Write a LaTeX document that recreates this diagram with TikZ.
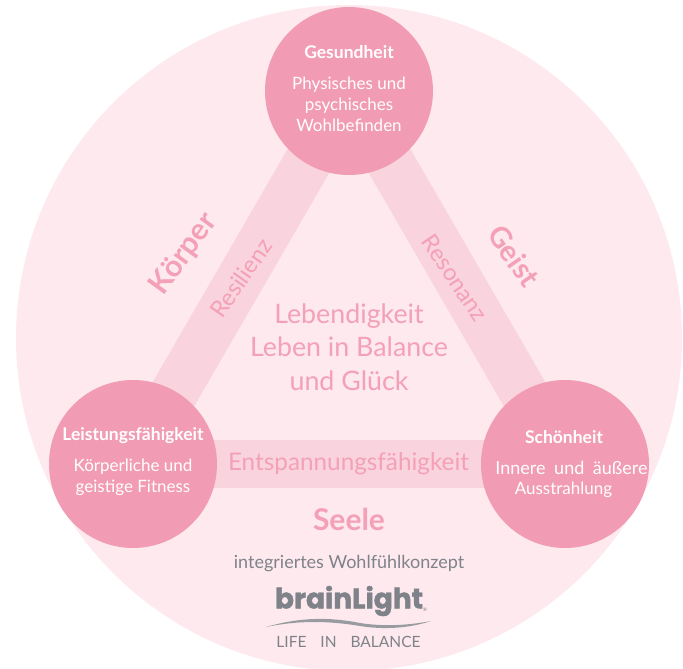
\documentclass[tikz,border=0pt]{standalone}
\usepackage{fontspec}
\setmainfont{Lato}
\newfontfamily\logofont[FakeBold=1.6]{Poppins}
\usetikzlibrary{backgrounds}
\definecolor{bgpink}{HTML}{FDE9EE}
\definecolor{bandpink}{HTML}{F9D3DD}
\definecolor{circpink}{HTML}{F29BB4}
\definecolor{txtpink}{HTML}{F4A0B9}
\definecolor{greytxt}{HTML}{7F8389}
\tikzset{
 x=1pt,y=-1pt,
 bigcirc/.style={circle,fill=circpink,minimum size=168pt,inner sep=0pt},
 band/.style={line width=48pt,bandpink,line cap=butt},
 wt/.style={text=white,font=\fontsize{17}{21}\selectfont,align=center,inner sep=0pt},
 wtb/.style={text=white,font=\fontsize{17.5}{20}\selectfont\bfseries,inner sep=0pt},
 pk/.style={text=txtpink,inner sep=0pt},
 ptitle/.style={pk,font=\fontsize{30}{34}\selectfont\bfseries},
 psub/.style={pk,font=\fontsize{23.5}{26}\selectfont},
 pmain/.style={pk,font=\fontsize{26.8}{33.5}\selectfont,align=center},
}
\begin{document}
\begin{tikzpicture}
\useasboundingbox (0,0) rectangle (683,669);
\node[bigcirc] (top) at (349,91) {};
\node[bigcirc] (left) at (133,464) {};
\node[bigcirc] (right) at (565,464) {};
\begin{pgfonlayer}{background}
\fill[bgpink] (349,338) circle[radius=333];
\draw[band] (top.center) -- (left.center);
\draw[band] (top.center) -- (right.center);
\draw[band] (left.center) -- (right.center);
\end{pgfonlayer}
\node[wtb] (t1) at (349,52) {Gesundheit};
\node[wt] (t2) at (349,104) {Physisches und\\psychisches\\Wohlbefinden};
\node[wtb] (l1) at (133,436) {Leistungsfähigkeit};
\node[wt] (l2) at (133,477) {Körperliche und\\geistige Fitness};
\node[wtb] (r1) at (564,437) {Schönheit};
\node[wt,font=\fontsize{18}{21}\selectfont] (r2) at (571.5,468) {Innere\hspace{4pt} und\hspace{4pt} äußere};
\node[wt] (r3) at (563.5,489.5) {Ausstrahlung};
\node[ptitle,rotate=54] (koerper) at (184,254) {Körper};
\node[ptitle,font=\fontsize{29}{34}\selectfont\bfseries,rotate=-55] (geist) at (514,256) {Geist};
\node[ptitle] (seele) at (349,519) {Seele};
\node[psub,rotate=55] (res) at (241,278) {Resilienz};
\node[psub,rotate=-56] (reso) at (455,278) {Resonanz};
\node[psub,font=\fontsize{24.3}{28}\selectfont] (ent) at (348.5,464) {Entspannungsfähigkeit};
\node[pmain] (mid) at (349,347) {Lebendigkeit\\Leben in Balance\\und Glück};
\node[text=greytxt,font=\fontsize{18}{22}\selectfont,inner sep=0pt] (integ) at (349,564) {integriertes Wohlfühlkonzept};
\node[text=greytxt,font=\logofont\fontsize{28}{30}\selectfont\bfseries,inner sep=0pt] (logo) at (349,601) {brainLight};
\node[text=greytxt,font=\fontsize{5}{5}\selectfont,inner sep=0pt] (reg) at (425,609.5) {®};
\fill[greytxt!80] (266,627) .. controls (300,617) and (330,617) .. (360,623) .. controls (385,627) and (410,625) .. (431,621) .. controls (410,628) and (385,630) .. (360,626) .. controls (330,621) and (300,620) .. (266,627) -- cycle;
\node[text=greytxt,font=\fontsize{15.5}{18}\selectfont,inner sep=0pt] (life) at (348.5,642) {LIFE\hspace{0.9em}IN\hspace{0.9em}BALANCE};
\end{tikzpicture}
\end{document}
